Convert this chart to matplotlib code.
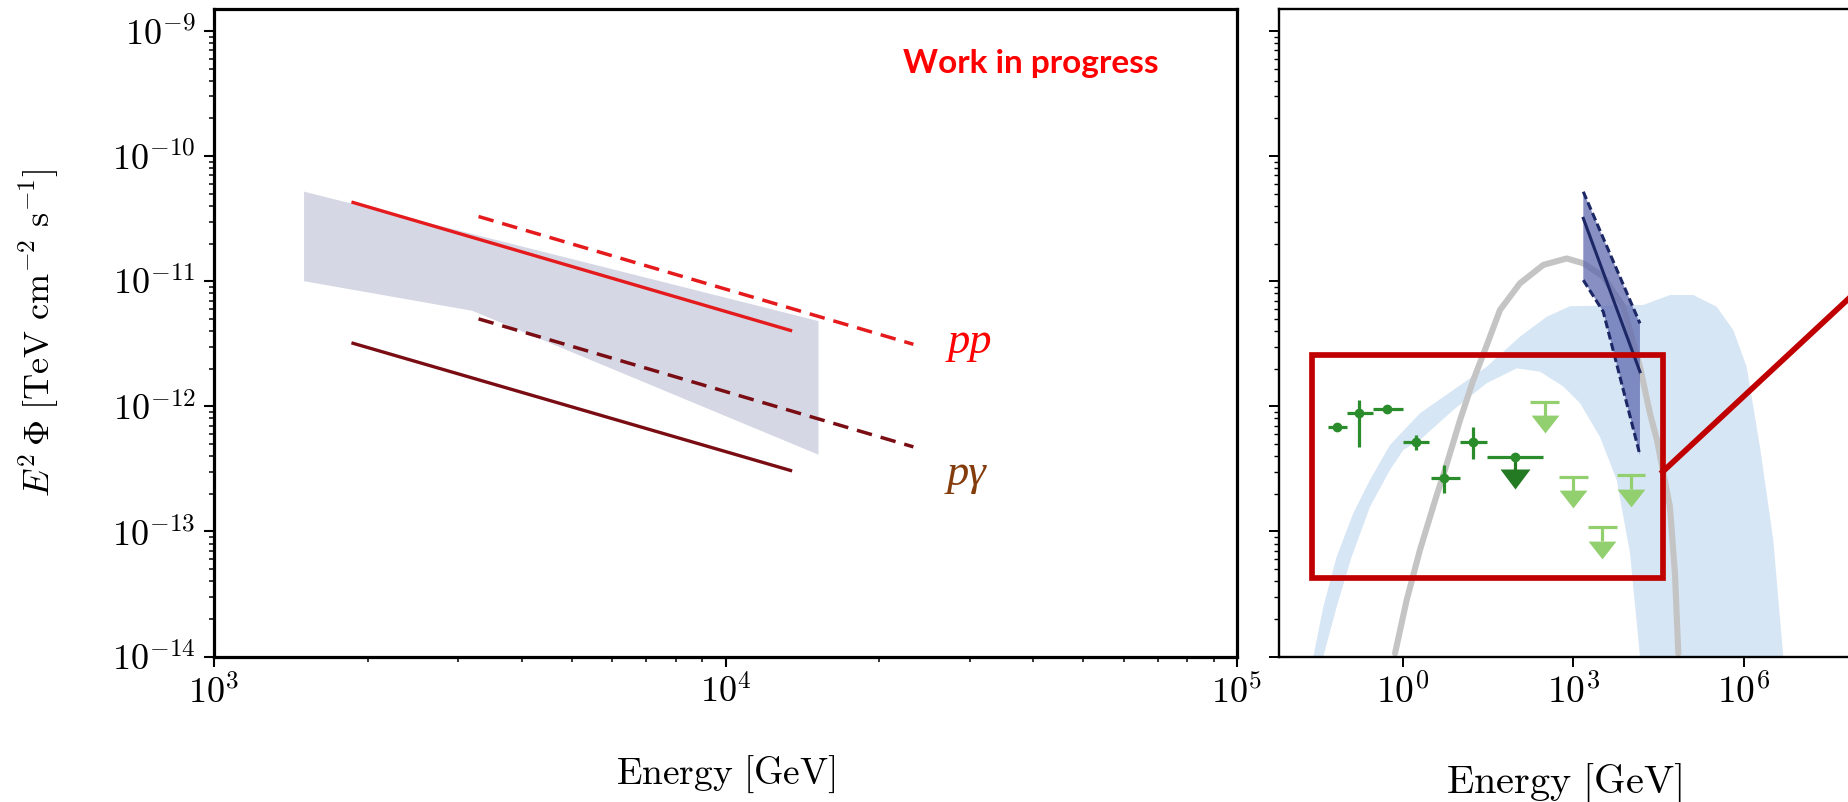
import numpy as np
import matplotlib
matplotlib.use('Agg')
import matplotlib.pyplot as plt
import matplotlib.ticker as mticker
import matplotlib.transforms as mtransforms
from matplotlib.patches import Rectangle

plt.rcParams['mathtext.fontset'] = 'cm'
plt.rcParams['font.family'] = ['DejaVu Serif']

# ---------------- left panel: model spectra (E in GeV, E^2 Phi in TeV cm-2 s-1)
band_energy = [1500, 15200, 15200, 3200, 1500]
band_flux = [5.2e-11, 4.8e-12, 4.1e-13, 5.8e-12, 1.0e-11]

pp_energy = [1870, 13400]
pp_flux = [4.26e-11, 4.04e-12]
pp_max_energy = [3290, 23300]
pp_max_flux = [3.29e-11, 3.13e-12]
pg_energy = [1870, 13400]
pg_flux = [3.19e-12, 3.07e-13]
pg_max_energy = [3290, 23300]
pg_max_flux = [5.0e-12, 4.74e-13]

# ---------------- right panel: broadband SED
sens_out_e = [0.0269, 0.0403, 0.0692, 0.1355, 0.266, 0.598, 2.01, 7.74, 29.9, 115,
              340, 871, 16940, 49900, 1.28e5, 3.30e5, 6.46e5, 1.11e6, 1.90e6, 3.26e6, 4.89e6]
sens_out_f = [1.0e-14, 2.50e-14, 6.28e-14, 1.40e-13, 2.58e-13, 4.91e-13, 8.79e-13, 1.35e-12,
              2.07e-12, 3.60e-12, 5.20e-12, 6.31e-12, 6.46e-12, 7.76e-12, 7.76e-12, 6.25e-12,
              4.07e-12, 2.07e-12, 4.75e-13, 8.53e-14, 1.0e-14]
sens_in_e = [0.0403, 0.0692, 0.127, 0.266, 0.598, 1.03, 2.01, 7.74, 29.9, 101, 259, 665,
             1306, 2931, 5768, 9886, 14790]
sens_in_f = [1.0e-14, 2.50e-14, 6.28e-14, 1.57e-13, 3.10e-13, 4.48e-13, 5.38e-13, 9.33e-13,
             1.53e-12, 2.01e-12, 1.89e-12, 1.44e-12, 1.06e-12, 5.69e-13, 2.58e-13, 6.71e-14, 1.0e-14]

model_e = [0.733, 1.175, 2.01, 3.96, 5.53, 10.2, 17.4, 27.9, 51.3, 115, 296, 762, 1493,
           3350, 7534, 14790, 22180, 29440, 49770, 60950, 69820]
model_f = [1.06e-14, 2.83e-14, 7.10e-14, 1.95e-13, 3.10e-13, 7.78e-13, 1.62e-12, 2.82e-12,
           5.89e-12, 9.62e-12, 1.35e-11, 1.52e-11, 1.39e-11, 1.09e-11, 6.25e-12, 2.07e-12,
           8.79e-13, 5.38e-13, 1.57e-13, 4.62e-14, 1.06e-14]

hess_e = [1493, 14790]
hess_f_hi = [5.19e-11, 4.60e-12]
hess_f_mid = [3.18e-11, 1.89e-12]
hess_lo_e = [1493, 3350, 14790]
hess_f_lo = [1.02e-11, 5.70e-12, 4.08e-13]

fermi_e = [0.071, 0.173, 0.536, 1.71, 5.32, 17.4]
fermi_e_lo = [0.049, 0.104, 0.297, 1.03, 3.10, 10.2]
fermi_e_hi = [0.104, 0.297, 1.03, 2.93, 10.2, 29.9]
fermi_f = [6.87e-13, 8.79e-13, 9.51e-13, 5.15e-13, 2.65e-13, 5.15e-13]
fermi_f_lo = [6.87e-13, 4.75e-13, 8.83e-13, 4.48e-13, 2.02e-13, 3.77e-13]
fermi_f_hi = [6.87e-13, 1.12e-12, 1.02e-12, 5.90e-13, 3.40e-13, 6.79e-13]

fermi_ul_e = [94.2]
fermi_ul_e_lo = [30.7]
fermi_ul_e_hi = [296]
fermi_ul_f = [3.95e-13]

lat_ul_e = [317, 995, 3141, 10280]
lat_ul_e_lo = [173, 565, 1828, 5768]
lat_ul_e_hi = [565, 1807, 5768, 18110]
lat_ul_f = [1.09e-12, 2.74e-13, 1.08e-13, 2.82e-13]

box_e = [0.0255, 3.71e4]
box_f = [4.27e-14, 2.56e-12]
link_e = [3.71e4, 1.0e8]
link_f = [3.0e-13, 8.5e-12]

ylim = (1e-14, 10 ** -8.82)

W, H = 1849, 802
fig = plt.figure(figsize=(W / 100, H / 100), dpi=100)


def pow10(v, pos):
    return r'$10^{%d}$' % int(round(np.log10(v)))


# ================= left panel =================
ax = fig.add_axes([214 / W, (H - 656.5) / H, 1023 / W, 648 / H])
ax.set_xscale('log')
ax.set_yscale('log')
ax.set_xlim(1e3, 1e5)
ax.set_ylim(*ylim)

ax.fill(band_energy, band_flux, color='#d5d8e4', lw=0, zorder=1)
ax.plot(pp_energy, pp_flux, color='#e41a1c', lw=2.4, zorder=3)
ax.plot(pp_max_energy, pp_max_flux, color='#e41a1c', lw=2.5, dashes=(4.5, 2.6), zorder=3)
ax.plot(pg_energy, pg_flux, color='#7a0d14', lw=2.4, zorder=3)
ax.plot(pg_max_energy, pg_max_flux, color='#7a0d14', lw=2.5, dashes=(4.5, 2.6), zorder=3)

ax.text(27200, 2.67e-12, 'pp', color='#ff0000', fontsize=32, style='italic',
        family='Liberation Serif', ha='left', va='baseline')
ax.text(27000, 2.35e-13, 'pγ', color='#843c0c', fontsize=32, style='italic',
        family='Liberation Serif', ha='left', va='baseline')
fig.text(902.7 / W, 1 - 72.7 / H, 'Work in progress', color='#ff0000', fontsize=24,
         fontweight='bold', family='Lato', ha='left', va='baseline')

ax.xaxis.set_major_formatter(mticker.FuncFormatter(pow10))
ax.yaxis.set_major_formatter(mticker.FuncFormatter(pow10))
ax.xaxis.set_minor_formatter(mticker.NullFormatter())
ax.yaxis.set_minor_formatter(mticker.NullFormatter())
ax.yaxis.set_major_locator(mticker.LogLocator(base=10, numticks=20))
ax.yaxis.set_minor_locator(mticker.LogLocator(base=10, subs=np.arange(2, 10), numticks=20))
ax.tick_params(which='major', direction='out', length=7, width=1.5, labelsize=26, pad=6)
ax.tick_params(which='minor', direction='out', length=3.5, width=1.1)
for s in ax.spines.values():
    s.set_linewidth(2.3)

ax.set_xlabel(r'$\mathrm{Energy\ [GeV]}$', fontsize=27)
ax.xaxis.set_label_coords(0.5, -0.15)
ax.set_ylabel(r'$E^2\,\Phi\ [\mathrm{TeV\ cm^{-2}\ s^{-1}}]$', fontsize=26)
ax.yaxis.set_label_coords(-0.15, 0.5)

# ================= right panel =================
ax2 = fig.add_axes([1279 / W, (H - 656.5) / H, 570 / W, 648 / H])
ax2.set_xscale('log')
ax2.set_yscale('log')
ax2.set_xlim(10 ** -2.174, 10 ** 7.844)
ax2.set_ylim(*ylim)

ax2.fill(list(sens_out_e) + list(sens_in_e[::-1]), list(sens_out_f) + list(sens_in_f[::-1]),
         color='#d7e6f5', lw=0, zorder=1)
ax2.plot(model_e, model_f, color='#c4c4c4', lw=4.4, solid_joinstyle='round',
         solid_capstyle='round', zorder=2)

ax2.fill(list(hess_e) + list(hess_lo_e[::-1]), list(hess_f_hi) + list(hess_f_lo[::-1]),
         color='#5b66ad', alpha=0.72, lw=0, zorder=3)
ax2.plot(hess_e, hess_f_hi, color='#1c2766', lw=2.2, dashes=(2.6, 1.2), zorder=4)
ax2.plot(hess_lo_e, hess_f_lo, color='#1c2766', lw=2.2, dashes=(2.6, 1.2), zorder=4)
ax2.plot(hess_e, hess_f_mid, color='#1c2766', lw=2.2, zorder=4)

dark_green = '#2a8c2a'
light_green = '#92cf6e'
fe = np.array(fermi_e)
ff = np.array(fermi_f)
ax2.errorbar(fe, ff,
             xerr=[fe - np.array(fermi_e_lo), np.array(fermi_e_hi) - fe],
             yerr=[ff - np.array(fermi_f_lo), np.array(fermi_f_hi) - ff],
             fmt='o', ms=6, color=dark_green, elinewidth=2.3, capsize=0, zorder=5)

ue = np.array(fermi_ul_e)
ax2.errorbar(ue, fermi_ul_f, xerr=[ue - np.array(fermi_ul_e_lo), np.array(fermi_ul_e_hi) - ue],
             fmt='o', ms=6, color=dark_green, elinewidth=2.3, capsize=0, zorder=5)


def shifted(dy_px):
    return ax2.transData + mtransforms.ScaledTranslation(0, dy_px / 100, fig.dpi_scale_trans)


tri_dark = [(-1, 0.667), (1, 0.667), (0, -0.667)]
tri_light = [(-1, 0.64), (1, 0.64), (0, -0.64)]
ax2.plot(fermi_ul_e, fermi_ul_f, ls='none', marker='|', ms=10, mew=2.3, color='#237a23',
         transform=shifted(-7), zorder=5)
ax2.plot(fermi_ul_e, fermi_ul_f, ls='none', marker=tri_dark, ms=21.6, mew=0, color='#237a23',
         transform=shifted(-22.5), zorder=5)

ax2.hlines(lat_ul_f, lat_ul_e_lo, lat_ul_e_hi, color=light_green, lw=2.3, zorder=5)
ax2.plot(lat_ul_e, lat_ul_f, ls='none', marker='|', ms=10, mew=2.3, color=light_green,
         transform=shifted(-7), zorder=5)
ax2.plot(lat_ul_e, lat_ul_f, ls='none', marker=tri_light, ms=20, mew=0, color=light_green,
         transform=shifted(-22.5), zorder=5)

ax2.add_patch(Rectangle((box_e[0], box_f[0]), box_e[1] - box_e[0], box_f[1] - box_f[0],
                        fill=False, edgecolor='#c00000', lw=4.1, joinstyle='miter', zorder=6))
ax2.plot(link_e, link_f, color='#c00000', lw=4.1, clip_on=False, zorder=6)

ax2.xaxis.set_major_locator(mticker.FixedLocator([1e0, 1e3, 1e6]))
ax2.xaxis.set_minor_locator(mticker.NullLocator())
ax2.xaxis.set_major_formatter(mticker.FuncFormatter(pow10))
ax2.yaxis.set_major_locator(mticker.LogLocator(base=10, numticks=20))
ax2.yaxis.set_minor_locator(mticker.LogLocator(base=10, subs=np.arange(2, 10), numticks=20))
ax2.tick_params(which='major', direction='out', length=7, width=1.4, labelsize=27, pad=6,
                labelleft=False)
ax2.tick_params(which='minor', direction='out', length=3.5, width=1.0, labelleft=False)
ax2.spines['right'].set_visible(False)
for s in ('left', 'top', 'bottom'):
    ax2.spines[s].set_linewidth(1.7)
ax2.set_xlabel(r'$\mathrm{Energy\ [GeV]}$', fontsize=29)
ax2.xaxis.set_label_coords(0.5, -0.163)

fig.savefig('out.png', dpi=100)
